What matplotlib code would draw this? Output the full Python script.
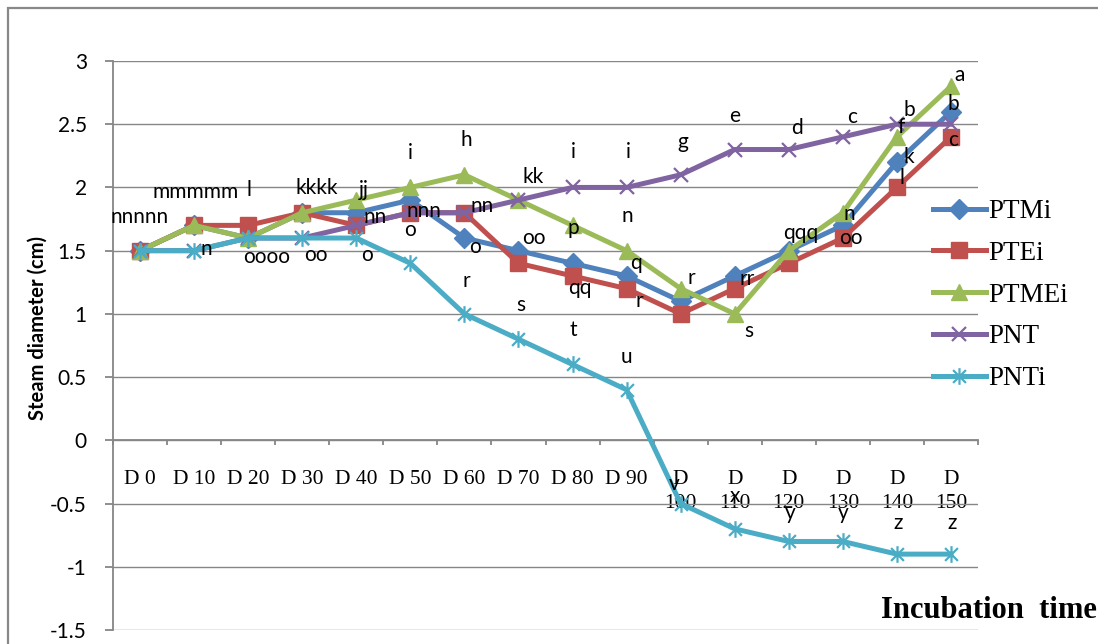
import numpy as np
import matplotlib.pyplot as plt
from matplotlib.path import Path
from matplotlib.patches import Rectangle

plt.rcParams['axes.unicode_minus'] = False

# incubation time categories
days = ['D 0', 'D 10', 'D 20', 'D 30', 'D 40', 'D 50', 'D 60', 'D 70', 'D 80', 'D 90',
        'D\n100', 'D\n110', 'D\n120', 'D\n130', 'D\n140', 'D\n150']

# stem diameter (cm) per treatment
ptmi = [1.5, 1.7, 1.6, 1.8, 1.8, 1.9, 1.6, 1.5, 1.4, 1.3, 1.1, 1.3, 1.5, 1.7, 2.2, 2.6]
ptei = [1.5, 1.7, 1.7, 1.8, 1.7, 1.8, 1.8, 1.4, 1.3, 1.2, 1.0, 1.2, 1.4, 1.6, 2.0, 2.4]
ptmei = [1.5, 1.7, 1.6, 1.8, 1.9, 2.0, 2.1, 1.9, 1.7, 1.5, 1.2, 1.0, 1.5, 1.8, 2.4, 2.8]
pnt = [1.5, 1.5, 1.6, 1.6, 1.7, 1.8, 1.8, 1.9, 2.0, 2.0, 2.1, 2.3, 2.3, 2.4, 2.5, 2.5]
pnti = [1.5, 1.5, 1.6, 1.6, 1.6, 1.4, 1.0, 0.8, 0.6, 0.4, -0.5, -0.7, -0.8, -0.8, -0.9, -0.9]

# significance letters per point ('' = no label)
ptmi_lbl = ['nnnnn', 'mmmmm', 'l', 'kkkk', '', 'o', 'o', 'oo', '', 'q', '', '', '', '', 'k', 'b']
ptei_lbl = ['', '', '', '', 'nn', 'nnn', 'nn', '', 'qq', 'r', '', 'rr', '', 'oo', 'l', 'c']
ptmei_lbl = ['', '', '', '', 'jj', 'i', 'h', 'kk', 'p', 'n', 'r', 's', 'qqq', 'n', 'f', 'a']
pnt_lbl = ['', '', '', '', '', '', '', '', 'i', 'i', 'g', 'e', 'd', 'c', 'b', '']
pnti_lbl = ['', 'n', 'oooo', 'oo', 'o', '', 'r', 's', 't', 'u', 'v', 'x', 'y', 'y', 'z', 'z']

# label offsets from the point, in pixels (dx, dy up)
ptmi_off = {0: (0, 34), 1: (2, 33), 2: (1, 48), 3: (15, 25), 5: (0, -30), 6: (11, -9),
            7: (15, 13), 9: (9, 13), 14: (12, 5), 15: (2, 8)}
ptei_off = {4: (19, 8), 5: (14, 2), 6: (18, 7), 8: (7, -12), 9: (13, -12), 11: (12, 10),
            13: (8, 0), 14: (5, 9), 15: (2, -3)}
ptmei_off = {4: (8, 10), 5: (0, 34), 6: (2, 35), 7: (15, 23), 8: (1, -3), 9: (1, 35),
             10: (11, 11), 11: (14, -17), 12: (12, 18), 13: (6, -1), 14: (4, 10), 15: (9, 11)}
pnt_off = {8: (1, 35), 9: (2, 35), 10: (2, 33), 11: (0, 34), 12: (8, 22), 13: (9, 20), 14: (12, 14)}
pnti_off = {1: (12, 2), 2: (18, -19), 3: (14, -17), 4: (11, -17), 6: (2, 33), 7: (2, 34),
            8: (1, 34), 9: (0, 33), 10: (-7, 20), 11: (0, 33), 12: (1, 28), 13: (0, 28),
            14: (1, 31), 15: (1, 31)}

star = Path([(-1, -1), (1, 1), (-1, 1), (1, -1), (0, -1.3), (0, 1.3)],
            [Path.MOVETO, Path.LINETO, Path.MOVETO, Path.LINETO, Path.MOVETO, Path.LINETO])

series = [
    ('PTMi', ptmi, ptmi_lbl, ptmi_off, '#4F81BD', 'D', 10, 1),
    ('PTEi', ptei, ptei_lbl, ptei_off, '#C0504D', 's', 11.5, 1),
    ('PTMEi', ptmei, ptmei_lbl, ptmei_off, '#9BBB59', '^', 12, 1),
    ('PNT', pnt, pnt_lbl, pnt_off, '#8064A2', 'x', 10, 1.6),
    ('PNTi', pnti, pnti_lbl, pnti_off, '#4BACC6', star, 12, 1.6),
]

fig = plt.figure(figsize=(10.98, 6.44), dpi=100)
ax = fig.add_axes([113 / 1098, 14 / 644, 865 / 1098, 569 / 644])
x = np.arange(len(days))

handles = []
for name, vals, lbls, offs, col, mk, ms, mew in series:
    h, = ax.plot(x, vals, color=col, lw=3.6, marker=mk, ms=ms, mfc=col, mec=col,
                 mew=mew, label=name, solid_joinstyle='round', zorder=3)
    handles.append(h)

for name, vals, lbls, offs, col, mk, ms, mew in series:
    for i, t in enumerate(lbls):
        if t:
            dx, dy = offs[i]
            ax.annotate(t, (x[i], vals[i]), xytext=(dx, dy), textcoords='offset pixels',
                        ha='center', va='center', fontsize=15, family='Lato', zorder=5)

ax.set_xlim(-0.5, 15.5)
ax.set_ylim(-1.5, 3)

grey = '#868686'
for s in ['top', 'right']:
    ax.spines[s].set_visible(False)
ax.spines['bottom'].set_position(('data', 0))
ax.spines['bottom'].set_color(grey)
ax.spines['left'].set_color(grey)
ax.spines['bottom'].set_linewidth(1.3)
ax.spines['left'].set_linewidth(1.3)

yt = np.arange(-1.5, 3.01, 0.5)
ax.set_yticks(yt)
ax.set_yticklabels([f'{v:g}' for v in yt], family='Lato', fontsize=15)
ax.tick_params(axis='y', direction='out', length=5.8, width=1.3, color=grey, pad=13)
ax.yaxis.grid(True, color=grey, lw=1.0)
ax.set_axisbelow(True)

ax.set_xticks(np.arange(-0.5, 16, 1))
ax.set_xticklabels([])
ax.set_xticks(x, minor=True)
ax.set_xticklabels(days, minor=True, family='Liberation Serif', fontsize=15.5)
ax.tick_params(axis='x', which='major', direction='out', length=3.6, width=1.3, color=grey)
ax.tick_params(axis='x', which='minor', length=0, pad=21.5)
for lab in ax.get_xticklabels(minor=True):
    lab.set_linespacing(1.35)

fig.text(38 / 1098, 1 - 328 / 644, 'Steam diameter (cm)', rotation=90, ha='center',
         va='center', fontsize=14.5, fontweight='bold', family='Lato')
fig.text(1097 / 1098, 1 - 611 / 644, 'Incubation  time', ha='right', va='center',
         fontsize=22, fontweight='bold', family='Liberation Serif')

fig.legend(handles, [h.get_label() for h in handles], loc='upper left',
           bbox_to_anchor=(933 / 1098, 1 - 199 / 644), frameon=False,
           prop={'family': 'Liberation Serif', 'size': 19.5}, handlelength=1.95,
           handletextpad=0.08, labelspacing=0.62, borderpad=0, borderaxespad=0)

fig.patches.append(Rectangle((8 / 1098, -0.1), 1.2, 636 / 644 + 0.1, transform=fig.transFigure,
                             fill=False, ec='#888888', lw=1.6))

fig.savefig('out.png', dpi=100)
